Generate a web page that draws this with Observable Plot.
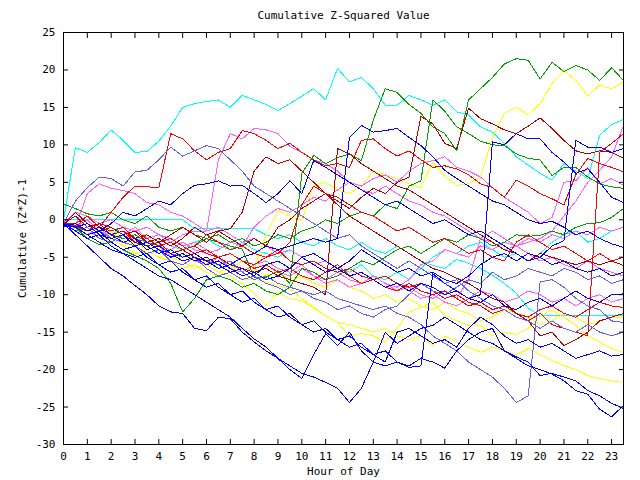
<!DOCTYPE html>
<html><head><meta charset="utf-8">
<script src="https://cdn.jsdelivr.net/npm/d3@7"></script>
<script src="https://cdn.jsdelivr.net/npm/@observablehq/plot@0.6"></script>
<style>
body{margin:0;background:#fff;}
</style></head><body><div id="chart"></div>
<script>
const title = "Cumulative Z-Squared Value";
const xLabel = "Hour of Day";
const yLabel = "Cumulative (Z*Z)-1";
const xTicks = [0,1,2,3,4,5,6,7,8,9,10,11,12,13,14,15,16,17,18,19,20,21,22,23];
const yTicks = [-30,-25,-20,-15,-10,-5,0,5,10,15,20,25];
const hours = [0,0.5,1,1.5,2,2.5,3,3.5,4,4.5,5,5.5,6,6.5,7,7.5,8,8.5,9,9.5,10,10.5,11,11.5,12,12.5,13,13.5,14,14.5,15,15.5,16,16.5,17,17.5,18,18.5,19,19.5,20,20.5,21,21.5,22,22.5,23,23.5];

const c1 = [0,9.6,9.0,10.3,12.0,10.6,9.0,9.1,10.5,12.5, 15.0,15.5,15.8,16.0,15.0,16.6,16.0,15.4,14.6,15.5, 16.5,17.5,16.0,20.2,18.4,19.0,17.5,15.3,15.3,16.6, 16.0,15.3,16.0,14.4,14.0,12.4,11.7,10.2,8.4,7.3, 6.2,5.3,7.5,6.5,5.5,11.3,12.7,13.4];
const g1 = [-0.5,-1,-1.5,-1,-2,-2.5,-2,-3,-3.5,-3, -4,-3.5,-2.5,-3,-3.5,-3.9,-7.7,-7.7,-6.8,-8.5, 6.2,8.6,7.5,8.3,8.8,7.9,13.3,17.5,17.0,15.4, 14.2,12.4,11.5,9.2,16.0,17.5,19.0,20.8,21.5,21.3, 18.8,21.0,19.8,20.6,20.0,18.6,20.3,18.6];
const y1 = [-0.8,-1,-0.5,-2,-1.5,-3,-2.5,-4,-3.5,-5, -4,-5.5,-5,-6.5,-6,-7,-6.5,-2,1.2,0.5, -0.1,4.6,5.0,4.0,3.5,4.5,6.5,6.0,5.5,4.8, 4.3,7.7,5.8,4.6,4.8,5.7,11.0,14.2,15.0,14.0, 15.5,18.2,19.9,18.6,16.5,18.0,17.5,18.4];
const r1 = [-0.5,-1,0.5,-1,1,3,4.5,4.4,4.3,11.5, 10.8,9.2,8.0,9.0,9.5,11.9,11.5,10.6,9.5,10.2, 9.0,8.0,7.2,7.5,7.0,10.6,10.8,9.5,8.5,9.2, 8.0,7.0,7.2,6.8,6.0,4.8,4.3,3.0,5.3,4.5, 3.5,2.8,2.0,6.0,8.2,7.5,7.0,6.4];
const dr1 = [-0.5,0.5,-1,-0.5,-2,-1.5,-2.5,-2,-3,-2, -1,-2,-3,-1.5,-1.2,1.0,6.5,8.4,7.5,8.0, 6.5,5.0,3.5,2.0,0.5,-0.5,-1.5,-2.5,-3.5,-4.5, -5.5,-6.5,-7.0,-7.8,-8.5,-9.5,-10.5,-11.0,-12.5,-13.5, -15.5,-15.0,-16.8,-16.0,-15.0,-13.5,-13.0,-12.5];
const dr2 = [-0.7,1,-0.5,-1.5,-1,-2,-1.5,-3,-2.5,-3.5, -2.5,-1,-2,-1.5,-2.5,-3.5,-2.5,-3.5,-1,0, 1.5,2.5,3.5,2.5,1.5,3,4.2,3.5,5.0,5.7, 13.8,12.8,10.2,9.5,14.9,13.5,12.8,12.0,11.5,12.5, 13.6,12.2,10.6,9.2,8.8,9.2,9.0,8.2];
const mb1 = [-0.5,2.5,4.3,5.7,5.5,4.5,6.4,6.6,8.0,9.7, 8.5,9.2,9.9,9.5,8.0,6.5,4.5,3.5,2.5,1.5, 0.5,-0.5,-1.5,-2.5,-2.0,-3.5,-4.5,-5.5,-6.5,-5.5, -6.5,-7.5,-8.5,-8.0,-9.5,-10.5,-11.5,-12.0,-13.0,-13.5, -14.5,-13.5,-14.5,-15.0,-14.0,-15.0,-15.5,-15.0];
const mag1 = [-0.6,-1,0,-1.5,-1,-2,-1,-2.5,-2,-3, -2,-1.5,-1.5,8.0,11.5,10.8,12.2,12.0,11.5,9.8, 9.0,8.0,7.5,6.5,5.0,4.0,3.5,4.5,3.5,2.5, 2.0,1.0,0.5,-0.5,-1.5,-2.5,-3.0,-4.0,-3.5,-4.5, -5.5,-5,-6,-6.5,-5.5,-6.5,-7,-7.5];
const m3 = [-0.8,-0.5,-1.5,-1,-2,-2.5,-2,-3,-3.5,-4, -3,-4,-4.5,-4,-3,-3.5,-1.0,0.5,1.5,1.0, 2.0,3.0,2.5,4.0,5.0,4.5,5.5,6.0,5.0,6.5, 7.5,7.9,8.4,7.0,6.5,5.7,4.3,3.0,2.0,1.0, -0.5,0.3,5.0,5.2,7.0,4.8,5.5,4.6];
const m4 = [-0.4,1,0.5,-0.5,0,-1,-1.5,-1,-2,-2.5, -3.5,-3,-4,-5,-4.5,-5.5,-6.5,-6,-7,-7.5, -6.5,-7.5,-8.5,-8,-9,-8.5,-7.5,-8.5,-9.5,-9, -10,-10.5,-9.5,-10.5,-8,-2.5,-1.5,-2.5,-3.5,-3, -2.5,-1.5,0.5,2.5,5.0,6.6,8.4,12.6];
const bh = [-0.8,-0.5,-1.5,-1,-2,-3,-2.5,-3.5,-4.5,-4, -5,-4.5,-5.5,-6.5,-6,-5,-4.5,-3.5,-4,-3.5, -3,-2.5,-3,-2.5,11.0,12.6,11.7,11.9,12.2,11.0, 9.9,8.4,6.6,5.5,4.5,3.5,2.5,2.0,1.0,0.0, -0.5,-0.2,-1.0,-2.0,-1.5,-2.5,-3.2,-3.7];
const bj = [-0.6,-1,-0.5,-2,-2.5,-2,-3.5,-3,-4,-5, -4.5,-5.5,-5,-6,-7,-6.5,-7.5,-6,-5.5,-6.5, -5,-4.5,-5.5,-6.5,-7.5,-7,-8,-9,-8.5,-9.5, -8.5,-9,-10,-9.5,-10.5,-10.0,10.4,10.0,11.5,10.8, 10.8,9.0,7.7,6.2,6.8,5.0,3.0,2.3];
const bk = [-1,-0.5,-1.5,-1,-2,-3,-2.5,-4,-3.5,-4.5, -5.5,-5,-6,-5.5,-6.5,-7.5,-7,-8,-7.5,-6.5, -5,-6,-7,-6.5,-5.5,-4.0,-5,-6,-7,-6.5, -7.5,-7,-8,-8.5,-7.5,-6,-5,-4.5,-5.5,-4.5, -5,-3.5,-2.8,10.6,9.7,9.7,9.0,9.5];
const g3 = [2.1,1.5,0.8,0.5,1,0,-0.5,0.5,-1,-1.5, -1,-2,-2.5,-2,-3,-2.5,-3.5,-3,-2,-2.5, -1.5,-1,0,-0.5,0.5,1,0.5,2,1.5,4.5, 5.2,16.0,14.5,12.4,11.5,10.5,10.0,9.9,8.8,8.2, 8.0,5.9,7.0,7.0,5.7,4.8,4.4,4.2];
const g4 = [-0.3,-1,-2.5,-3.3,-3.0,-4.0,-4.8,-5.5,-6.5,-8.5, -12.3,-10.5,-8.0,-7.5,-8.0,-9.0,-8.5,-9.5,-10.0,-9.0, -6.5,-7.0,-8.0,-7.5,-6.5,-5.5,-6.0,-5.0,-4.0,-3.5, -4.5,-3.5,-2.5,-3.0,-2.0,-2.5,-3.5,-3.0,-2.0,-2.2, -2.1,-1.5,-2.0,-1.0,-0.5,-0.4,0.3,1.5];
const r2 = [-0.9,-0.5,-1.5,-0.5,-2,-1.5,-3,-2.5,-3.5,-3, -4,-3.5,-2,-3,-4,-3.5,-4.5,-5,-4,-5.5, -6,-5.5,-6.5,-7,-6.5,-7.5,-8,-7.5,-8.5,-9, -8.5,-9.5,-10.5,-10,-11,-11.5,-12.5,-12,-13,-13.5, -12.5,-14,-14.5,-15,-15.5,9.0,10.2,11.5];
const dr7 = [-0.5,-1,-0.5,-1.5,-2.5,-2,-3,-3.5,-3,-4.5, -4,-5,-5.5,-5,-6,-6.5,-7,-6.5,-7.5,-8, -8.5,-9,-10,9.5,8.8,7.5,6.5,5.5,4.5,4.0, 3.0,2.0,1.0,0.0,-1,-2,-3,-4,-4.5,-5.5, -4.5,-5.0,-5.5,-6.0,-5.5,-6.0,-5.5,-6.1];
const r5 = [-0.7,-0.8,-1.5,-0.5,-1,-2,-1.5,-2.5,-3.5,-3, -4,-3.5,-4.5,-5,-4.5,-5.5,-6,-5,-4.5,-3, 2.0,4.5,3.5,3.0,2.0,1.0,0.5,-0.5,-1.5,-1.0, -2.0,-3.0,-2.5,-3.5,-4.5,-4.0,-5.0,-5.5,-3.0,-2.0, -3.0,-4.0,-3.5,-4.5,-5.5,-4.5,-5.5,-5.0];
const r6 = [-0.5,-0.5,0.5,-1,-1.5,-1,-2.5,-2,-3,-2.5, -3.5,-4.5,-4,-5,-4.5,-5.5,-6.5,-6,-7,-6.5, -7.5,-8,-7,-6,-7.5,-8.5,-8,-9,-9.5,-8.5, -9.5,-10,-9.5,-10.5,-11.5,-11,-12,-11.5,-12.5,-13, -12,-11.5,-12.5,-13,-12,-11,-11.5,-11.7];
const c2 = [0,0,0,0,0,0,0,0,0,0, 0,-1.2,-1.2,-1.2,-1.2,-1.2,-1.2,-2.0,-2.5,-2.0, -3.0,-3.5,-2.5,-3.5,-4.0,-3.0,-4.0,-4.5,-3.5,-4.5, -5.5,-6.1,-6.5,-5.3,-5.8,-6.5,-7.4,-8.5,-9.8,-11.8, -12.8,-12.8,-12.8,-12.8,-12.8,-12.8,-12.8,-12.8];
const c3 = [-0.5,-1,-0.5,-1.5,-2,-1,-2.5,-3,-2.5,-3.5, -4,-3,-2.5,-3.5,-4,-3,-4,-4.5,-5,-4, -5,-6,-5.5,-6.5,-7,-6,-7.5,-8,-7,-8, -6.5,-5,-4,-4.5,-3.5,-3,-4,-5,-4.5,-5.5, -4.5,-3,-2,-1.5,-3,-2.5,-1.5,-1];
const mb2 = [-0.8,-1,-2,-1.5,-2.5,-3,-3.5,-3,-4,-4.5, -5,-4.5,-5.5,-6,-5.5,-7,-8,-7.5,-8.5,-9, -9.5,-10,-9.5,-10.5,-11,-11.5,-12,-11.5,-12.5,-13, -14,-15.5,-16.5,-17.5,-19,-20,-21,-22.5,-24.4,-23.5, -8.3,-8.0,-9.0,-10.5,-11.5,-12.0,-13.5,-13.7];
const y2 = [-0.6,-1,-1.5,-2.5,-2,-3,-3.5,-4.5,-4,-5, -5.5,-6.5,-6,-7,-7.5,-8.5,-9.8,-11.4,-9.7,-10.5, -10.8,-11.8,-12.8,-13.7,-15.5,-15.2,-15.5,-16.3,-14.5,-12.3, -11.7,-11.0,-12.8,-13.5,-14.1,-14.1,-15.5,-15.0,-15.3,-14.5, -12.8,-12.1,-13.0,-14.1,-15.5,-16.3,-17.2,-17.7];
const y3 = [-0.5,-1.5,-2,-3,-2.5,-3.5,-4.5,-4,-5,-5.5, -6.5,-6,-7,-7.5,-7,-8,-7.9,-8.3,-8.8,-9.2, -10.5,-11.7,-12.8,-13.7,-14.0,-14.5,-15.0,-14.5,-15.5,-16.0, -15.5,-16.8,-15.5,-16.3,-17.0,-17.7,-17.0,-17.5,-18.0,-17.2, -18.0,-18.8,-19.5,-20.0,-20.8,-21.2,-21.5,-21.7];
const bl1 = [-0.5,-2,-3.5,-5,-6.5,-7.5,-8.8,-10,-11.5,-12.3, -12.5,-14.5,-14.8,-13,-13.2,-15,-16.3,-17.5,-18.5,-19.5, -20.5,-21.0,-21.7,-22.5,-24.4,-22.5,-19.0,-19.5,-19.0,-19.5, -18.5,-19.0,-19.8,-17.5,-16.0,-15.0,-14.5,-17.5,-18.5,-19.5, -20.0,-20.6,-21.5,-22.8,-23.3,-25.3,-26.3,-24.8];
const bl2 = [-0.7,-1,-2,-3,-4,-4.5,-5.5,-6.5,-7.5,-8.0, -9,-10,-11,-12,-13,-14.5,-15.9,-17,-18.5,-20, -21.2,-18.0,-15.2,-16.8,-15.0,-17.5,-19.0,-15.0,-16.5,-15.5, -14.5,-14.1,-13.0,-14,-15,-16,-16.5,-17.5,-18.3,-19, -20.8,-20.5,-21.0,-21.5,-22.8,-23.5,-24.5,-25.2];
const b6 = [-0.6,-1,-2,-1.5,-3,-4,-3.5,-5,-6,-5.5, -7,-8,-7.5,-9,-10,-9.5,-11,-12,-11.5,-13, -14,-13.5,-15,-16,-15.5,-17,-18,-17.5,-19,-19.7, -19.5,-7.2,-8.5,-9.5,-10.5,-11.0,-10.0,-11.5,-12.0,-11.0, -10.5,-11.5,-10.5,-9.5,-10.5,-11.0,-10.0,-9.9];
const b7 = [-0.5,-1.5,-2.5,-2,-3.5,-4.5,-5,-4.5,-6,-7, -6.5,-8,-9,-8.5,-10,-11,-10.5,-12,-13,-12.5, -14,-15,-14.5,-16,-17,-16.5,-18,-19,-15.0,-14.5, -15.5,-16.5,-16,-17,-14.5,-13,-14,-15.5,-16.5,-16, -17,-16.5,-17.5,-18.5,-18,-17.5,-18.2,-18];
const b8 = [-0.5,-1,-2,-1.5,-0.5,1,0.5,1.5,2.5,2, 3.5,4.6,4.8,5.2,4.5,4.6,3.5,2.3,3.5,5.2, 3.5,7.9,7.0,6.0,5.0,4.0,3.0,2.0,2.5,1.5, 0.5,-0.5,0.0,-1.0,-2.0,-1.5,-2.5,-3.5,-4.5,-5.5, -5,-6,-5.5,-6.5,-7,-6.5,-7.5,-7];
const m5 = [-0.5,-1,-2,-1,-2.5,-3,-2.5,-4,-3.5,-5, -4.5,-5.5,-6,-5,-6.5,-7,-6,-5.5,-6.5,-7, -6,-7.5,-8,-7,-8,-8.5,-7.5,-8.5,-9,-8, -6,-5.5,-4,-4.5,-5,-3.5,-4,-3,-3.5,-2.5, -3,-2,-2.5,-1.5,-2,-1,-1.5,-1];
const mag2 = [-0.5,-1,3.5,4.8,4.2,3.9,3.5,2.3,2.0,1.0, 0.5,-0.5,-1.5,-1.0,-2.0,-3.0,-2.5,-3.5,-4.5,-4.0, -5.0,-6.0,-5.5,-6.5,-7.5,-7.0,-8.0,-9.0,-8.5,-9.5, -10.5,-10,-11,-11.5,-10.5,-9.5,-10,-11,-10.5,-9.5, -10,-11,-10.5,-11.5,-10.5,-10,-11,-10.5];
const mb3 = [-0.4,-1.5,-1,-2.5,-3,-2,-3.5,-4.5,-4,-5.5, -6,-5,-6.5,-7.5,-7,-8,-7.5,-8.5,-9,-10, -9.5,-10.5,-11,-12,-11.5,-12.5,-13,-12,-11.5,-10, -8.5,-9.5,-10,-9,-8,-8.5,-7,-8,-7.5,-6.5, -7,-7.5,-6.5,-7,-8,-7.5,-8.5,-8];
const y4 = [-0.5,-1,-2,-1.5,-2.5,-3.5,-3,-4,-5,-4.5, -5.5,-6.5,-6,-7,-6.5,-5.5,-6.5,-7.5,-7,-8, -7.5,-8.5,-9,-8,-9,-9.5,-10.5,-10,-11,-10.5, -11.5,-12,-11,-12,-12.5,-13.5,-13,-12,-12.5,-13, -14,-13.5,-12.5,-13,-14,-13.5,-13,-13];

const seriesNames = ["c1","c2","c3","y1","y2","y3","y4","mag1","mag2","m3","m4","m5","g1","g3","g4","r1","r2","r5","r6","dr1","dr2","dr7","mb1","mb2","mb3","bh","bj","bk","b6","b7","b8","bl1","bl2"];
const seriesColors = ["#00ffff","#00ffff","#00ffff","#ffff00","#ffff00","#ffff00","#ffff00","#ff60ff","#ff60ff","#ff60ff","#ff60ff","#ff60ff","#00a000","#00a000","#00a000","#ff0000","#ff0000","#ff0000","#ff0000","#b00000","#b00000","#b00000","#6060ff","#6060ff","#6060ff","#0000ff","#0000ff","#0000ff","#0000ff","#0000ff","#0000ff","#0000ff","#0000ff"];
const seriesValues = [c1,c2,c3,y1,y2,y3,y4,mag1,mag2,m3,m4,m5,g1,g3,g4,r1,r2,r5,r6,dr1,dr2,dr7,mb1,mb2,mb3,bh,bj,bk,b6,b7,b8,bl1,bl2];

const rows = seriesNames.flatMap((name, i) =>
  seriesValues[i].map((v, j) => ({series: name, hour: hours[j], value: v})));

const chart = Plot.plot({
  width: 640, height: 480,
  marginLeft: 63, marginRight: 17, marginTop: 32, marginBottom: 36,
  style: {fontFamily: "DejaVu Sans Mono", fontSize: "11px", background: "#fff", color: "#000"},
  x: {domain: [0, 23.5]},
  y: {domain: [-30, 25]},
  color: {domain: seriesNames, range: seriesColors},
  marks: [
    Plot.line(rows, {x: "hour", y: "value", z: "series", stroke: "series", strokeWidth: 1}),
    Plot.frame({stroke: "#000"}),
    Plot.axisX({anchor: "bottom", ticks: xTicks, tickSize: -5, tickPadding: 13, label: null, tickFormat: d => String(d)}),
    Plot.axisX({anchor: "top", ticks: xTicks, tickSize: -5, label: null, tickFormat: () => ""}),
    Plot.axisY({anchor: "left", ticks: yTicks, tickSize: -5, tickPadding: 13, label: null, tickFormat: d => String(d)}),
    Plot.axisY({anchor: "right", ticks: yTicks, tickSize: -5, label: null, tickFormat: () => ""}),
    Plot.text([title], {text: d => d, frameAnchor: "top", dy: -17, lineAnchor: "middle", textAnchor: "middle"}),
    Plot.text([xLabel], {text: d => d, frameAnchor: "bottom", dy: 27, lineAnchor: "middle", textAnchor: "middle"}),
    Plot.text([yLabel], {text: d => d, frameAnchor: "left", dx: -41, rotate: -90, lineAnchor: "middle", textAnchor: "middle"})
  ]
});
chart.querySelectorAll('g[aria-label="line"] path').forEach(p => p.setAttribute("shape-rendering", "crispEdges"));
document.getElementById("chart").appendChild(chart);
</script></body></html>
